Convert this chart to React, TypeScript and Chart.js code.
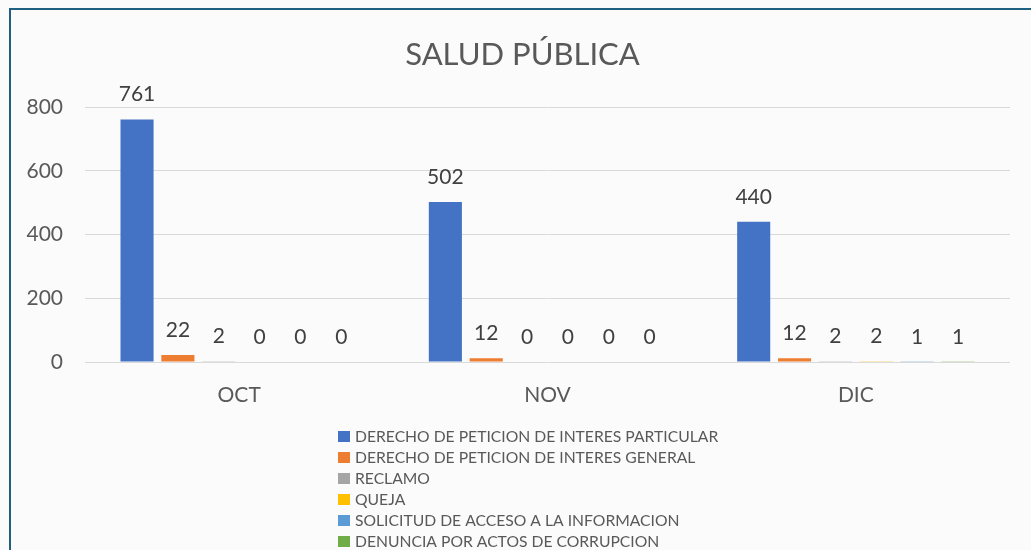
import React, { useEffect, useRef } from "react";
import { Chart, registerables } from "chart.js";

Chart.register(...registerables);

const categories = ["OCT", "NOV", "DIC"];
const seriesNames = [
  "DERECHO DE PETICION DE INTERES PARTICULAR",
  "DERECHO DE PETICION DE INTERES GENERAL",
  "RECLAMO",
  "QUEJA",
  "SOLICITUD DE ACCESO A LA INFORMACION",
  "DENUNCIA POR ACTOS DE CORRUPCION",
];
const derechoParticular = [761, 502, 440];
const derechoGeneral = [22, 12, 12];
const reclamo = [2, 0, 2];
const queja = [0, 0, 2];
const solicitudInformacion = [0, 0, 1];
const denunciaCorrupcion = [0, 0, 1];
const seriesColors = ["#4472C4", "#ED7D31", "#A5A5A5", "#FFC000", "#5B9BD5", "#70AD47"];
const chartTitle = "SALUD PÚBLICA";
const yMin = 0;
const yMax = 800;
const yStep = 200;

const FONT = "Lato, 'Open Sans', sans-serif";

const titlePlugin = {
  id: "customTitle",
  afterDraw(chart: any) {
    const ctx = chart.ctx;
    ctx.save();
    ctx.font = `31px ${FONT}`;
    ctx.fillStyle = "#595959";
    ctx.textAlign = "center";
    ctx.textBaseline = "middle";
    ctx.fillText(chartTitle, chart.width / 2 + 7, 55);
    ctx.restore();
  },
};

const dataLabelPlugin = {
  id: "dataLabels",
  afterDatasetsDraw(chart: any) {
    const ctx = chart.ctx;
    ctx.save();
    ctx.font = `21px ${FONT}`;
    ctx.fillStyle = "#404040";
    ctx.textAlign = "center";
    ctx.textBaseline = "alphabetic";
    chart.data.datasets.forEach((ds: any, i: number) => {
      const meta = chart.getDatasetMeta(i);
      meta.data.forEach((bar: any, j: number) => {
        ctx.fillText(String(ds.data[j]), bar.x, bar.y - 18);
      });
    });
    ctx.restore();
  },
};

const listLegendPlugin = {
  id: "listLegend",
  afterDraw(chart: any) {
    const ctx = chart.ctx;
    const area = chart.chartArea;
    ctx.save();
    ctx.font = `15.7px ${FONT}`;
    ctx.textBaseline = "middle";
    ctx.textAlign = "left";
    const left = 338;
    const firstY = area.bottom + 75;
    const rowH = 21;
    chart.data.datasets.forEach((ds: any, i: number) => {
      const y = firstY + i * rowH;
      ctx.fillStyle = ds.backgroundColor;
      ctx.fillRect(left, y - 6, 12, 11);
      ctx.fillStyle = "#595959";
      ctx.fillText(ds.label, left + 17, y);
    });
    ctx.restore();
  },
};

export default function App() {
  const canvasRef = useRef<HTMLCanvasElement | null>(null);

  useEffect(() => {
    document.body.style.margin = "0";
    document.body.style.overflow = "hidden";
    const values = [
      derechoParticular,
      derechoGeneral,
      reclamo,
      queja,
      solicitudInformacion,
      denunciaCorrupcion,
    ];
    const chart = new Chart(canvasRef.current as HTMLCanvasElement, {
      type: "bar",
      data: {
        labels: categories,
        datasets: values.map((v, i) => ({
          label: seriesNames[i],
          data: v,
          backgroundColor: seriesColors[i],
          borderWidth: 0,
          categoryPercentage: 0.795,
          barPercentage: 0.81,
        })),
      },
      options: {
        responsive: false,
        animation: false,
        layout: { padding: { left: 0, right: 21, top: 107, bottom: 0 } },
        plugins: {
          legend: { display: false },
          tooltip: { enabled: false },
          title: { display: false },
        },
        scales: {
          x: {
            grid: { display: false },
            border: { display: false },
            ticks: {
              color: "#595959",
              font: { family: FONT, size: 21 },
              padding: 13,
            },
            afterFit(scale: any) {
              scale.height = 188;
            },
          },
          y: {
            min: yMin,
            max: yMax,
            grid: { color: "#d9d9d9", drawTicks: false, lineWidth: 1 },
            border: { display: false },
            ticks: {
              stepSize: yStep,
              color: "#595959",
              font: { family: FONT, size: 21 },
              padding: 22,
            },
            afterFit(scale: any) {
              scale.width = 85;
            },
          },
        },
      } as any,
      plugins: [dataLabelPlugin, listLegendPlugin, titlePlugin],
    });
    return () => chart.destroy();
  }, []);

  return (
    <div
      style={{
        position: "relative",
        width: 1031,
        height: 550,
        overflow: "hidden",
        background: "#fbfbfb",
      }}
    >
      <div
        style={{
          position: "absolute",
          left: 9,
          top: 8,
          width: 1100,
          height: 700,
          border: "2px solid #1f5f7f",
          boxSizing: "border-box",
        }}
      />
      <canvas
        ref={canvasRef}
        width={1031}
        height={550}
        style={{ position: "absolute", left: 0, top: 0 }}
      />
    </div>
  );
}
